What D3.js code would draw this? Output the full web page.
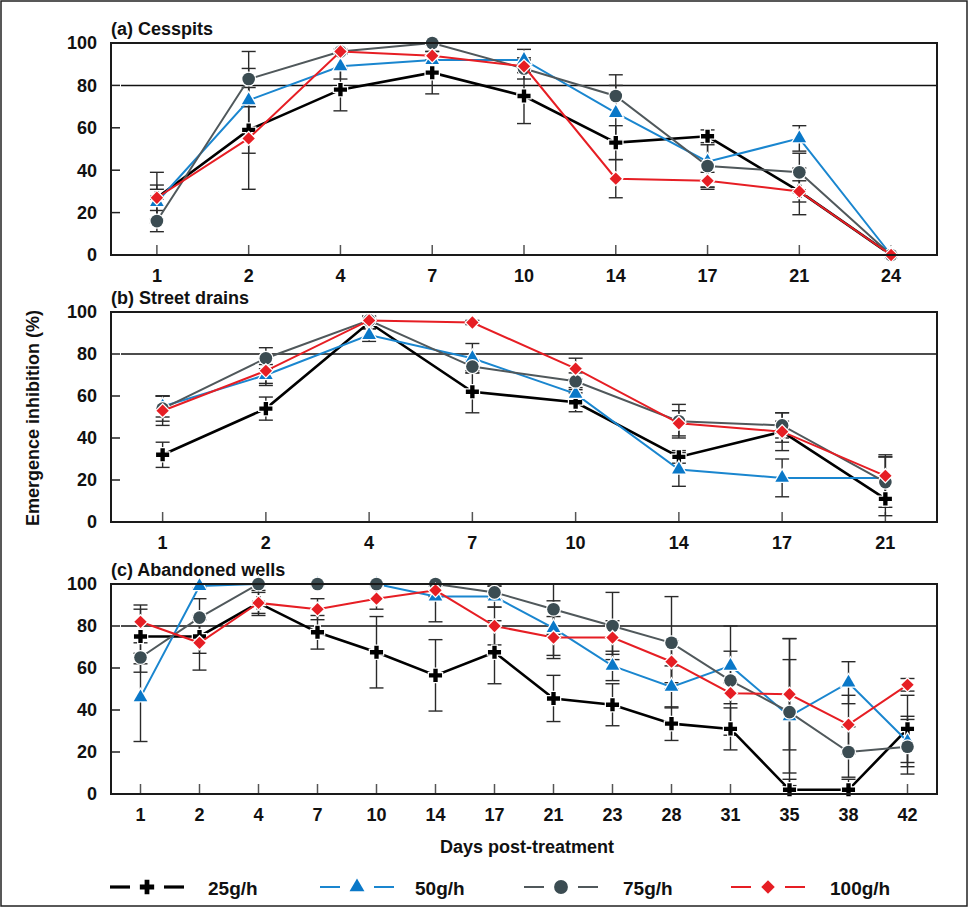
<!DOCTYPE html>
<html>
<head>
<meta charset="utf-8">
<script src="https://cdn.jsdelivr.net/npm/d3@7"></script>
<style>
  body { margin: 0; background: #fff; }
  svg text { font-family: "Liberation Sans", Arial, sans-serif; font-weight: bold; fill: #111; }
</style>
</head>
<body>
<svg id="chart" width="968" height="907"></svg>
<script>
// doses (legend order)
const doses = ['25g/h', '50g/h', '75g/h', '100g/h'];

// (a) Cesspits
const daysA = [1, 2, 4, 7, 10, 14, 17, 21, 24];
const a25 = [27, 59, 78, 86, 75, 53, 56, 30, 0];
const a25err = [4, 11, 10, 10, 13, 8, 3, 11, 0];
const a50 = [25, 73, 89, 92, 92, 67, 44, 55, 0];
const a50err = [8, 15, 6, 2, 5, 13, 12, 6, 0];
const a75 = [16, 83, 96, 100, 88, 75, 42, 39, 0];
const a75err = [5, 13, 1, 1, 5, 10, 10, 9, 0];
const a100 = [27, 55, 96, 94, 89, 36, 35, 30, 0];
const a100err = [12, 24, 1, 2, 3, 9, 4, 5, 0];

// (b) Street drains
const daysB = [1, 2, 4, 7, 10, 14, 17, 21];
const b25 = [32, 54, 95, 62, 57, 31, 43, 11];
const b25err = [6, 5.5, 3, 10, 4.5, 3, 9, 8];
const b50 = [55, 70, 89, 78, 61, 25, 21, 21];
const b50err = [5, 5, 3, 7, 3, 8, 9, 10];
const b75 = [54, 78, 96, 74, 67, 48, 46, 19];
const b75err = [6, 5, 2, 3, 4, 8, 6, 12];
const b100 = [53, 72, 96, 95, 73, 47, 43, 22];
const b100err = [7, 6, 1, 1, 5, 6, 5, 10];

// (c) Abandoned wells
const daysC = [1, 2, 4, 7, 10, 14, 17, 21, 23, 28, 31, 35, 38, 42];
const c25 = [75, 75, 91, 77, 67.5, 56.5, 67.5, 45.5, 42.5, 33.5, 31, 2, 2, 31];
const c25err = [13, 8, 6, 8, 17, 17, 15, 11, 10, 8, 10, 5, 5, 16];
const c50 = [46, 99, 100, 100, 100, 94, 94, 79, 61, 51, 61, 37, 53, 25];
const c50err = [21, 1, 1, 1, 1, 12, 5, 13, 7, 10, 7, 27, 10, 12];
const c75 = [65, 84, 100, 100, 100, 100, 96, 88, 80, 72, 54, 39, 20, 22.5];
const c75err = [7, 9, 2, 1, 1, 1, 3, 12, 16, 22, 26, 35, 12, 13];
const c100 = [82, 72, 91, 88, 93, 97, 80, 74.5, 74.5, 63, 48, 47.5, 33, 52];
const c100err = [8, 13, 5, 5, 5, 3, 9, 10, 8, 10, 5, 26.5, 14, 3];

const yTicks = [0, 20, 40, 60, 80, 100];
const threshold = 80;

const styles = [
  { line: '#000', fill: '#000', width: 2.6, symbol: d3.symbolCross, size: 95, rotate: 0 },
  { line: '#1a86cf', fill: '#0a78c8', width: 2, symbol: d3.symbolTriangle, size: 80, rotate: 0 },
  { line: '#50585b', fill: '#3b4c52', width: 2, symbol: d3.symbolCircle, size: 125, rotate: 0 },
  { line: '#e61e24', fill: '#e61e24', width: 2, symbol: d3.symbolSquare, size: 76, rotate: 45 },
];

const panels = [
  { title: '(a) Cesspits', days: daysA, top: 43, bottom: 255,
    series: [[a25, a25err], [a50, a50err], [a75, a75err], [a100, a100err]] },
  { title: '(b) Street drains', days: daysB, top: 312, bottom: 522,
    series: [[b25, b25err], [b50, b50err], [b75, b75err], [b100, b100err]] },
  { title: '(c) Abandoned wells', days: daysC, top: 584, bottom: 794,
    series: [[c25, c25err], [c50, c50err], [c75, c75err], [c100, c100err]] },
];

const left = 111, right = 937;
const svg = d3.select('#chart');

// outer frame
svg.append('rect')
  .attr('x', 1).attr('y', 1).attr('width', 966).attr('height', 905)
  .attr('fill', 'none').attr('stroke', '#222').attr('stroke-width', 1.5);

function drawPanel(p) {
  const x = d3.scalePoint().domain(p.days).range([left, right]).padding(0.5);
  const y = d3.scaleLinear().domain([0, 100]).range([p.bottom, p.top]);
  const g = svg.append('g');

  // threshold line
  g.append('line')
    .attr('x1', left + 10).attr('x2', right)
    .attr('y1', y(threshold)).attr('y2', y(threshold))
    .attr('stroke', '#111').attr('stroke-width', 1.5);

  // y ticks (inward) + labels
  g.selectAll('.yt').data(yTicks).join('line')
    .attr('x1', left).attr('x2', left + 9)
    .attr('y1', d => y(d)).attr('y2', d => y(d))
    .attr('stroke', '#222').attr('stroke-width', 1.5);
  g.selectAll('.yl').data(yTicks).join('text')
    .attr('x', 97).attr('y', d => y(d)).attr('dy', '0.36em')
    .attr('text-anchor', 'end').attr('font-size', 18)
    .text(d => d);

  // x ticks (inward) + labels
  g.selectAll('.xt').data(p.days).join('line')
    .attr('x1', d => x(d)).attr('x2', d => x(d))
    .attr('y1', p.bottom).attr('y2', p.bottom - 10)
    .attr('stroke', '#555').attr('stroke-width', 1.5);
  g.selectAll('.xl').data(p.days).join('text')
    .attr('x', d => x(d)).attr('y', p.bottom + 27)
    .attr('text-anchor', 'middle').attr('font-size', 18)
    .text(d => d);

  g.append('text')
    .attr('x', left).attr('y', p.top - 8)
    .attr('font-size', 18)
    .text(p.title);

  // error bars
  p.series.forEach(([vals, errs]) => {
    const eb = g.append('g').attr('stroke', '#2a2a2a').attr('stroke-width', 1.4);
    vals.forEach((v, i) => {
      if (!errs[i]) return;
      const cx = x(p.days[i]);
      const hi = Math.min(100, v + errs[i]), lo = Math.max(0, v - errs[i]);
      eb.append('line').attr('x1', cx).attr('x2', cx).attr('y1', y(hi)).attr('y2', y(lo));
      [hi, lo].forEach(e => eb.append('line')
        .attr('x1', cx - 7).attr('x2', cx + 7).attr('y1', y(e)).attr('y2', y(e)));
    });
  });

  // lines + markers
  p.series.forEach(([vals], si) => {
    const s = styles[si];
    const line = d3.line().x((d, i) => x(p.days[i])).y(d => y(d));
    g.append('path').datum(vals)
      .attr('d', line).attr('fill', 'none')
      .attr('stroke', s.line).attr('stroke-width', s.width);
    g.selectAll('.m' + si).data(vals).join('path')
      .attr('d', d3.symbol().type(s.symbol).size(s.size))
      .attr('transform', (d, i) => `translate(${x(p.days[i])},${y(d)}) rotate(${s.rotate})`)
      .attr('fill', s.fill)
      .attr('stroke', '#fff').attr('stroke-width', 2.5)
      .attr('paint-order', 'stroke');
  });

  // frame
  g.append('rect')
    .attr('x', left).attr('y', p.top)
    .attr('width', right - left).attr('height', p.bottom - p.top)
    .attr('fill', 'none').attr('stroke', '#1a1a1a').attr('stroke-width', 2);
}

panels.forEach(drawPanel);

// axis titles
svg.append('text')
  .attr('transform', 'translate(39,418) rotate(-90)')
  .attr('text-anchor', 'middle').attr('font-size', 18)
  .text('Emergence inhibition (%)');
svg.append('text')
  .attr('x', 527).attr('y', 853)
  .attr('text-anchor', 'middle').attr('font-size', 18)
  .text('Days post-treatment');

// legend
const legendX = [147, 357, 561, 768];
const labelX = [208, 415, 623, 830];
const ly = 887;
doses.forEach((name, i) => {
  const s = styles[i];
  const lg = svg.append('g');
  [[-37, -17], [17, 37]].forEach(([a, b]) => lg.append('line')
    .attr('x1', legendX[i] + a).attr('x2', legendX[i] + b)
    .attr('y1', ly).attr('y2', ly)
    .attr('stroke', s.line).attr('stroke-width', i === 0 ? 3.2 : 2));
  lg.append('path')
    .attr('d', d3.symbol().type(s.symbol).size(s.size * 1.2))
    .attr('transform', `translate(${legendX[i]},${ly}) rotate(${s.rotate})`)
    .attr('fill', s.fill);
  lg.append('text')
    .attr('x', labelX[i]).attr('y', ly + 8)
    .attr('font-size', 19)
    .text(name);
});
</script>
</body>
</html>
